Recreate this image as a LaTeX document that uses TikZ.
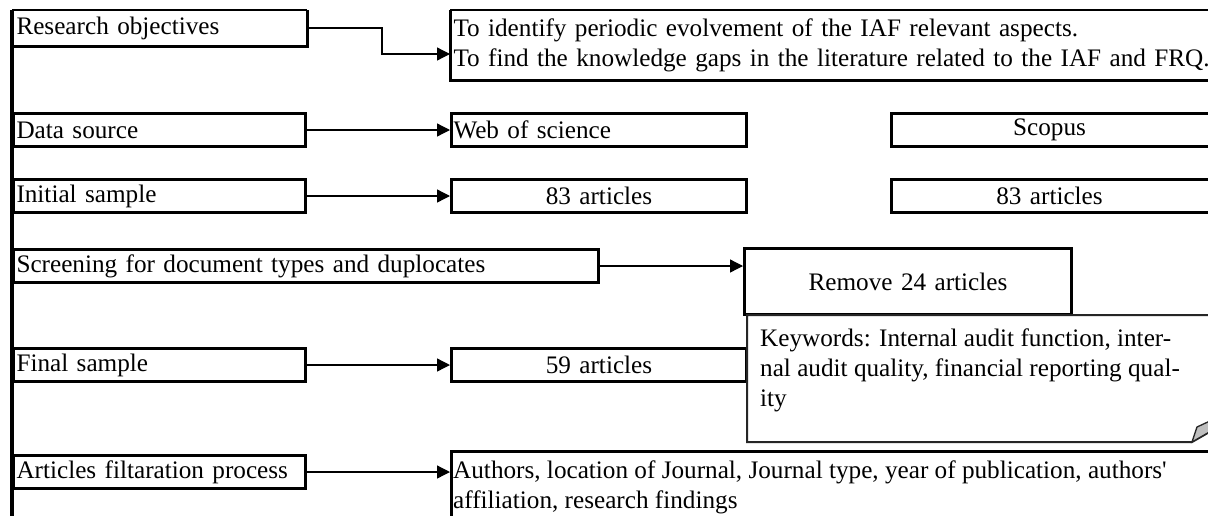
\documentclass[tikz,border=0pt]{standalone}
\usepackage{fontspec}
\setmainfont{Liberation Serif}
\usetikzlibrary{arrows.meta,calc}
\begin{document}
\begin{tikzpicture}[x=1pt,y=-1pt,
  every node/.style={font=\fontsize{25.2}{30}\selectfont},
  box/.style={draw, line width=3pt, anchor=north west, inner xsep=3pt,
    inner ysep=0pt, minimum height=33pt, align=left},
  topbox/.style={box, draw=none},
  cbox/.style={box, align=center, inner xsep=0pt},
  rbox/.style={box, inner xsep=0pt, text width=335pt},
  thick edge/.style={line width=3pt},
  thin edge/.style={line width=1.4pt},
  conn/.style={line width=1.3pt, -{Triangle[length=13pt,width=13pt]}},
  notebox/.style={fill=white, draw=black!85, line width=2pt},
  fold/.style={fill=black!25, draw=black!85, line width=1.3pt},
]
\clip (0,0) rectangle (1208,515);
\fill[white] (0,0) rectangle (1208,515);

% left column of process steps
\node[topbox, text width=286pt] (ro)  at (12,10)  {Research objectives};
\node[box, text width=286pt] (ds)  at (12,112) {Data source};
\node[box, text width=286pt] (is)  at (12,178) {Initial sample};
\node[box, text width=579pt] (scr) at (12,248) {Screening for document types and duplocates};
\node[box, text width=286pt] (fs)  at (12,347) {Final sample};
\node[box, text width=286pt] (af)  at (12,454) {Articles filtaration process};
\coordinate (lbot) at (12,525);
\draw[line width=3.5pt] (ro.north west) -- (lbot);
\draw[thick edge] (ro.north east) -- (ro.south east) -- (ro.south west);
\draw[thin edge] (ro.north west) -- (ro.north east);

% outcomes
\node[topbox, inner xsep=2pt, text width=800pt, minimum height=67pt] (obj) at (450,10)
  {To identify periodic evolvement of the IAF relevant aspects.\\
   To find the knowledge gaps in the literature related to the IAF and FRQ.};
\draw[thick edge] (obj.north west) -- (obj.south west) -- (obj.south east);
\draw[thin edge] (obj.north west) -- (obj.north east);
\node[box, inner xsep=2pt, text width=291pt] (wos) at (450,112) {Web of science};
\node[rbox] (sco) at (890,112) {\makebox[316pt]{Scopus}};
\node[cbox, text width=295pt] (wa) at (450,178) {83 articles};
\node[rbox] (sa) at (890,178) {\makebox[316pt]{83 articles}};
\node[cbox, text width=327pt, minimum height=66pt] (rem) at (743,247) {Remove 24 articles};
\node[cbox, text width=295pt] (fa) at (450,347) {59 articles};
\node[box, minimum width=800pt, minimum height=120pt] (auth) at (450,450) {};
\node[anchor=north west, align=left, inner sep=0pt] (authtxt) at (453,461)
  {Authors, location of Journal, Journal type, year of publication, authors\textquotesingle\\
   affiliation, research findings};

% keyword note with folded corner
\draw[notebox] (747,315) -- (1225,315) -- (1225,423) -- (1192,442) -- (747,442) -- cycle;
\filldraw[fold] (1192,442) -- (1197,427) -- (1225,414) -- (1225,423) -- cycle;
\node[anchor=north west, align=left, inner sep=0pt] (kw) at (760,329)
  {Keywords: Internal audit function, inter-\\
   nal audit quality, financial reporting qual-\\
   ity};

% connectors
\draw[conn] (ro.east) -- ++(75,0) |- ([yshift=-9pt]obj.west);
\draw[conn] (ds.east) -- (wos.west);
\draw[conn] (is.east) -- (wa.west);
\draw[conn] (scr.east) -- (scr.east -| rem.west);
\draw[conn] (fs.east) -- (fa.west);
\draw[conn] (af.east) -- (af.east -| auth.west);
\end{tikzpicture}
\end{document}
